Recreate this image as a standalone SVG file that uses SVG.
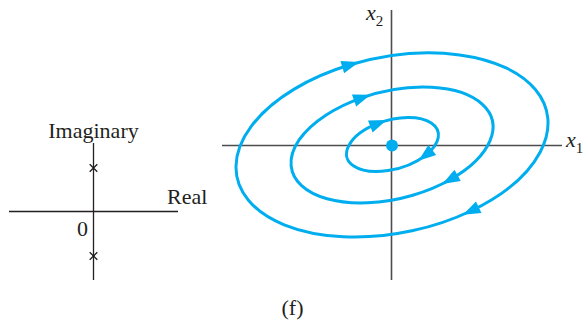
<svg xmlns="http://www.w3.org/2000/svg" width="588" height="323" viewBox="0 0 588 323">
<style>
.ax{stroke:#231f20;stroke-width:1.3;fill:none}
.ax2{stroke:#4d4d4f;stroke-width:1.6;fill:none}
.orb{stroke:#00aeef;stroke-width:3;fill:none;stroke-linecap:round;marker-start:url(#arr);marker-mid:url(#arr)}
.t{font-family:"Liberation Serif","Times New Roman",serif;font-size:22px;fill:#231f20}
.it{font-style:italic}
.sub{font-size:15px}
</style>
<defs>
<marker id="arr" markerUnits="userSpaceOnUse" markerWidth="20" markerHeight="14" refX="0" refY="0" viewBox="-8 -6 16 12" orient="auto">
<path d="M8 0 L-7 -5.5 L-7 5.5 Z" fill="#00aeef"/>
</marker>
</defs>
<g id="s-plane">
<line class="ax" x1="9" y1="211.5" x2="178" y2="211.5"/>
<line class="ax" x1="93.5" y1="143" x2="93.5" y2="280"/>
<path class="ax" d="M89.7 164.2 L97.3 171.8 M97.3 164.2 L89.7 171.8 M89.7 252.2 L97.3 259.8 M97.3 252.2 L89.7 259.8" stroke-width="0.9"/>
<text class="t" x="93.5" y="138" text-anchor="middle">Imaginary</text>
<text class="t" x="167" y="204">Real</text>
<text class="t" x="77" y="236">0</text>
</g>
<g id="phase-axes">
<line class="ax2" x1="222" y1="145.5" x2="562" y2="145.5"/>
<line class="ax2" x1="391.5" y1="10" x2="391.5" y2="280"/>
<text class="t it" x="366" y="20">x<tspan class="sub" font-style="normal" dy="6">2</tspan></text>
<text class="t it" x="566" y="147">x<tspan class="sub" font-style="normal" dy="6">1</tspan></text>
</g>
<g id="connectors">
<g transform="translate(392 145) rotate(-11.7)">
<path class="orb" d="M-24.76 -87.02 A158.3 88.1 0 0 1 64.38 80.48 A158.3 88.1 0 1 1 -24.76 -87.02"/>
</g>
<g transform="translate(392 145) rotate(-14)">
<path class="orb" d="M-17.92 -53.08 A103.2 53.9 0 0 1 48.45 47.59 A103.2 53.9 0 1 1 -17.92 -53.08"/>
</g>
<g transform="translate(392.5 144.5) rotate(-16)">
<path class="orb" d="M-8.21 -24.23 A47.3 24.6 0 0 1 29.12 19.38 A47.3 24.6 0 1 1 -8.21 -24.23"/>
</g>
</g>
<g id="origin">
<circle cx="392" cy="145.5" r="6" fill="#00aeef"/>
</g>
<text class="t" x="292.5" y="315" text-anchor="middle">(f)</text>
</svg>
